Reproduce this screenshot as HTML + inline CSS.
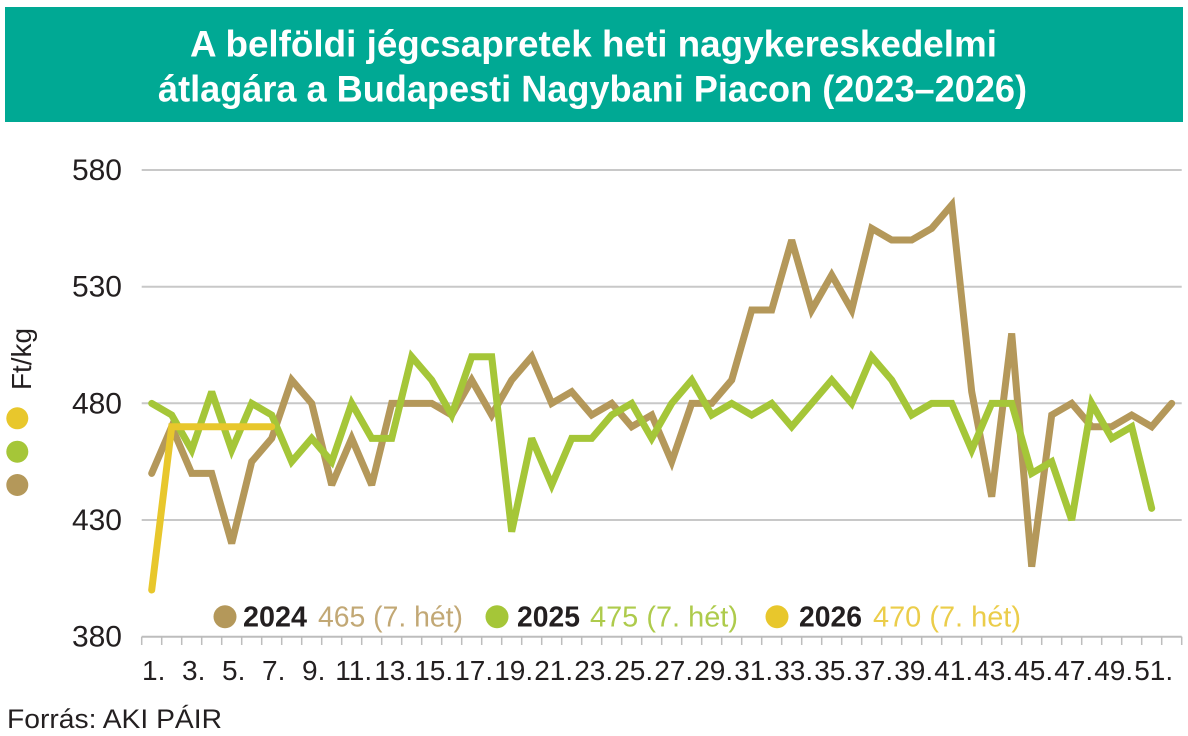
<!DOCTYPE html>
<html>
<head>
<meta charset="utf-8">
<style>
  html,body{margin:0;padding:0;background:#fff;}
  body{width:1188px;height:736px;overflow:hidden;}
  svg{display:block;}
  text{font-family:"Liberation Sans", sans-serif;}
</style>
</head>
<body>
<svg width="1188" height="736" viewBox="0 0 1188 736" xmlns="http://www.w3.org/2000/svg">
  <!-- Title bar -->
  <rect x="5" y="7" width="1178" height="115" fill="#00a994"/>
  <text x="593.5" y="56.7" text-anchor="middle" font-size="37" font-weight="bold" fill="#ffffff" textLength="807" lengthAdjust="spacingAndGlyphs">A belföldi jégcsapretek heti nagykereskedelmi</text>
  <text x="592.5" y="101.7" text-anchor="middle" font-size="37" font-weight="bold" fill="#ffffff" textLength="869" lengthAdjust="spacingAndGlyphs">átlagára a Budapesti Nagybani Piacon (2023–2026)</text>

  <!-- Gridlines -->
  <g stroke="#c8c8c8" stroke-width="2">
    <line x1="141.7" y1="170" x2="1181.7" y2="170"/>
    <line x1="141.7" y1="286.7" x2="1181.7" y2="286.7"/>
    <line x1="141.7" y1="403.3" x2="1181.7" y2="403.3"/>
    <line x1="141.7" y1="520" x2="1181.7" y2="520"/>
  </g>

  <!-- Y labels -->
  <g font-size="30" fill="#231f20" text-anchor="end">
    <text x="122" y="180">580</text>
    <text x="122" y="296.7">530</text>
    <text x="122" y="413.3">480</text>
    <text x="122" y="530">430</text>
    <text x="122" y="646.7">380</text>
  </g>

  <!-- Y axis title and side dots -->
  <text transform="translate(31,390) rotate(-90)" font-size="28" fill="#231f20" textLength="62" lengthAdjust="spacingAndGlyphs">Ft/kg</text>
  <circle cx="17.3" cy="418.3" r="11" fill="#e8c72c"/>
  <circle cx="17.3" cy="451.7" r="11" fill="#a5c638"/>
  <circle cx="17.3" cy="485" r="11" fill="#b4985a"/>

  <!-- X axis -->
  <line x1="141.7" y1="636.7" x2="1181.7" y2="636.7" stroke="#bdbdbd" stroke-width="2"/>
  <g stroke="#bdbdbd" stroke-width="1.5">
    <line x1="141.7" y1="636.7" x2="141.7" y2="645"/><line x1="161.7" y1="636.7" x2="161.7" y2="645"/><line x1="181.7" y1="636.7" x2="181.7" y2="645"/><line x1="201.7" y1="636.7" x2="201.7" y2="645"/><line x1="221.7" y1="636.7" x2="221.7" y2="645"/><line x1="241.7" y1="636.7" x2="241.7" y2="645"/><line x1="261.7" y1="636.7" x2="261.7" y2="645"/><line x1="281.7" y1="636.7" x2="281.7" y2="645"/><line x1="301.7" y1="636.7" x2="301.7" y2="645"/><line x1="321.7" y1="636.7" x2="321.7" y2="645"/>
    <line x1="341.7" y1="636.7" x2="341.7" y2="645"/><line x1="361.7" y1="636.7" x2="361.7" y2="645"/><line x1="381.7" y1="636.7" x2="381.7" y2="645"/><line x1="401.7" y1="636.7" x2="401.7" y2="645"/><line x1="421.7" y1="636.7" x2="421.7" y2="645"/><line x1="441.7" y1="636.7" x2="441.7" y2="645"/><line x1="461.7" y1="636.7" x2="461.7" y2="645"/><line x1="481.7" y1="636.7" x2="481.7" y2="645"/><line x1="501.7" y1="636.7" x2="501.7" y2="645"/><line x1="521.7" y1="636.7" x2="521.7" y2="645"/>
    <line x1="541.7" y1="636.7" x2="541.7" y2="645"/><line x1="561.7" y1="636.7" x2="561.7" y2="645"/><line x1="581.7" y1="636.7" x2="581.7" y2="645"/><line x1="601.7" y1="636.7" x2="601.7" y2="645"/><line x1="621.7" y1="636.7" x2="621.7" y2="645"/><line x1="641.7" y1="636.7" x2="641.7" y2="645"/><line x1="661.7" y1="636.7" x2="661.7" y2="645"/><line x1="681.7" y1="636.7" x2="681.7" y2="645"/><line x1="701.7" y1="636.7" x2="701.7" y2="645"/><line x1="721.7" y1="636.7" x2="721.7" y2="645"/>
    <line x1="741.7" y1="636.7" x2="741.7" y2="645"/><line x1="761.7" y1="636.7" x2="761.7" y2="645"/><line x1="781.7" y1="636.7" x2="781.7" y2="645"/><line x1="801.7" y1="636.7" x2="801.7" y2="645"/><line x1="821.7" y1="636.7" x2="821.7" y2="645"/><line x1="841.7" y1="636.7" x2="841.7" y2="645"/><line x1="861.7" y1="636.7" x2="861.7" y2="645"/><line x1="881.7" y1="636.7" x2="881.7" y2="645"/><line x1="901.7" y1="636.7" x2="901.7" y2="645"/><line x1="921.7" y1="636.7" x2="921.7" y2="645"/>
    <line x1="941.7" y1="636.7" x2="941.7" y2="645"/><line x1="961.7" y1="636.7" x2="961.7" y2="645"/><line x1="981.7" y1="636.7" x2="981.7" y2="645"/><line x1="1001.7" y1="636.7" x2="1001.7" y2="645"/><line x1="1021.7" y1="636.7" x2="1021.7" y2="645"/><line x1="1041.7" y1="636.7" x2="1041.7" y2="645"/><line x1="1061.7" y1="636.7" x2="1061.7" y2="645"/><line x1="1081.7" y1="636.7" x2="1081.7" y2="645"/><line x1="1101.7" y1="636.7" x2="1101.7" y2="645"/><line x1="1121.7" y1="636.7" x2="1121.7" y2="645"/>
    <line x1="1141.7" y1="636.7" x2="1141.7" y2="645"/><line x1="1161.7" y1="636.7" x2="1161.7" y2="645"/><line x1="1181.7" y1="636.7" x2="1181.7" y2="645"/>
  </g>

  <!-- X labels -->
  <g font-size="28" fill="#231f20" text-anchor="middle">
    <text x="153.7" y="680">1.</text>
    <text x="193.7" y="680">3.</text>
    <text x="233.7" y="680">5.</text>
    <text x="273.7" y="680">7.</text>
    <text x="313.7" y="680">9.</text>
    <text x="353.7" y="680">11.</text>
    <text x="393.7" y="680">13.</text>
    <text x="433.7" y="680">15.</text>
    <text x="473.7" y="680">17.</text>
    <text x="513.7" y="680">19.</text>
    <text x="553.7" y="680">21.</text>
    <text x="593.7" y="680">23.</text>
    <text x="633.7" y="680">25.</text>
    <text x="673.7" y="680">27.</text>
    <text x="713.7" y="680">29.</text>
    <text x="753.7" y="680">31.</text>
    <text x="793.7" y="680">33.</text>
    <text x="833.7" y="680">35.</text>
    <text x="873.7" y="680">37.</text>
    <text x="913.7" y="680">39.</text>
    <text x="953.7" y="680">41.</text>
    <text x="993.7" y="680">43.</text>
    <text x="1033.7" y="680">45.</text>
    <text x="1073.7" y="680">47.</text>
    <text x="1113.7" y="680">49.</text>
    <text x="1153.7" y="680">51.</text>
  </g>

  <!-- Series -->
  <g transform="translate(151.7,636.7) scale(20,-2.33333)" fill="none" stroke-linejoin="miter" stroke-miterlimit="3" stroke-linecap="round">
    <polyline vector-effect="non-scaling-stroke" stroke="#b4985a" stroke-width="7"
      points="0,70 1,90 2,70 3,70 4,40 5,75 6,85 7,110 8,100 9,65 10,85 11,65 12,100 13,100 14,100 15,95 16,110 17,95 18,110 19,120 20,100 21,105 22,95 23,100 24,90 25,95 26,75 27,100 28,100 29,110 30,140 31,140 32,170 33,140 34,155 35,140 36,175 37,170 38,170 39,175 40,185 41,105 42,60 43,130 44,30 45,95 46,100 47,90 48,90 49,95 50,90 51,100"/>
    <polyline vector-effect="non-scaling-stroke" stroke="#a5c638" stroke-width="7"
      points="0,100 1,95 2,80 3,105 4,80 5,100 6,95 7,75 8,85 9,75 10,100 11,85 12,85 13,120 14,110 15,95 16,120 17,120 18,45 19,85 20,65 21,85 22,85 23,95 24,100 25,85 26,100 27,110 28,95 29,100 30,95 31,100 32,90 33,100 34,110 35,100 36,120 37,110 38,95 39,100 40,100 41,80 42,100 43,100 44,70 45,75 46,50 47,100 48,85 49,90 50,55"/>
    <polyline vector-effect="non-scaling-stroke" stroke="#e8c72c" stroke-width="7"
      points="0,20 1,90 2,90 3,90 4,90 5,90 6,90"/>
  </g>

  <!-- Legend -->
  <circle cx="225" cy="616.7" r="11.5" fill="#b4985a"/>
  <text x="243" y="626.7" font-size="29" font-weight="bold" fill="#231f20" textLength="64" lengthAdjust="spacingAndGlyphs">2024</text>
  <text x="318" y="626.7" font-size="29" fill="#c2a875" textLength="145" lengthAdjust="spacingAndGlyphs">465 (7. hét)</text>

  <circle cx="497" cy="616.7" r="11.5" fill="#a5c638"/>
  <text x="517" y="626.7" font-size="29" font-weight="bold" fill="#231f20" textLength="63" lengthAdjust="spacingAndGlyphs">2025</text>
  <text x="590" y="626.7" font-size="29" fill="#aecb4c" textLength="148" lengthAdjust="spacingAndGlyphs">475 (7. hét)</text>

  <circle cx="777" cy="616.7" r="11.5" fill="#e8c72c"/>
  <text x="799" y="626.7" font-size="29" font-weight="bold" fill="#231f20" textLength="63" lengthAdjust="spacingAndGlyphs">2026</text>
  <text x="873" y="626.7" font-size="29" fill="#ebcd4a" textLength="148" lengthAdjust="spacingAndGlyphs">470 (7. hét)</text>

  <!-- Source -->
  <text x="7" y="728" font-size="27" fill="#231f20" textLength="215" lengthAdjust="spacingAndGlyphs">Forrás: AKI PÁIR</text>
</svg>
</body>
</html>
